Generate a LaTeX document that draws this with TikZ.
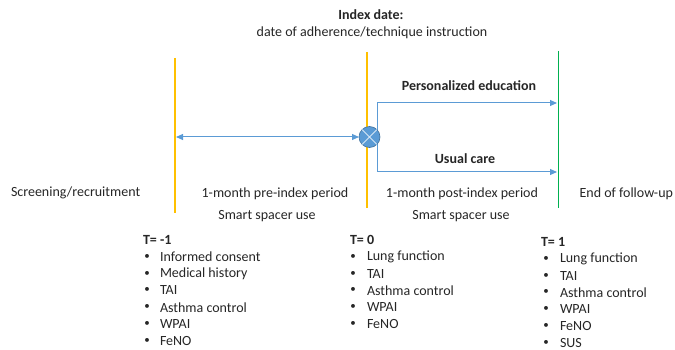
\documentclass[tikz,border=0pt]{standalone}
\usepackage{fontspec}
\setmainfont{Carlito}
\usetikzlibrary{arrows.meta}
\definecolor{ylw}{HTML}{FFC000}
\definecolor{grn}{HTML}{00B050}
\definecolor{blu}{HTML}{5B9BD5}
\definecolor{bludk}{HTML}{41719C}
\definecolor{txt}{HTML}{262626}
\newcommand{\fsz}{\fontsize{14}{17}\selectfont}
\begin{document}
\begin{tikzpicture}[x=1pt,y=-1pt,
  every node/.style={inner sep=0pt,outer sep=0pt,text=txt,font=\fsz},
  vline/.style={line width=1.8pt},
  arr/.style={draw=blu,line width=1pt,-{Triangle[length=7pt,width=6pt]}},
  lbl/.style={anchor=center},
  bld/.style={anchor=center,font=\fsz\bfseries},
  ttl/.style={anchor=west,font=\fsz\bfseries},
  item/.style={anchor=west},
  dot/.style={anchor=center,font=\fontsize{11}{13}\selectfont}]
\useasboundingbox (0,0) rectangle (675,350);
% vertical lines
\draw[vline,ylw] (175,58) -- (175,213);
\draw[vline,ylw] (367,52) -- (367,208);
\draw[vline,grn] (558.5,51) -- (558.5,208);
% coordinates
\coordinate (L) at (176,137);
\coordinate (Ptop) at (377,103);
\coordinate (Pbot) at (377,172);
\coordinate (Etop) at (557,103);
\coordinate (Ebot) at (557,172);
% branches
\draw[draw=blu,line width=1pt] (Ptop) -- (Pbot);
\draw[arr] (Ptop) -- (Etop);
\draw[arr] (Pbot) -- (Ebot);
% circle
\node[circle,minimum size=21pt,fill=blu,draw=bludk,line width=0.6pt] (C) at (369.5,137) {};
\draw[white!75!blu,line width=0.8pt] (C.north west) -- (C.south east) (C.north east) -- (C.south west);
\draw[draw=blu,line width=1pt,{Triangle[length=7pt,width=6pt]}-{Triangle[length=7pt,width=6pt]}] (L) -- (C.west);
% top labels
\node[bld] (idx) at (371,15) {Index date:};
\node[lbl] (idx2) at (372,33) {date of adherence/technique instruction};
\node[bld] (pe) at (469,86) {Personalized education};
\node[bld] (uc) at (465,159) {Usual care};
% period labels
\node[anchor=west] (scr) at (11,193) {Screening/recruitment};
\node[lbl] (pre) at (275,194) {1-month pre-index period};
\node[lbl] (ss1) at (267,216) {Smart spacer use};
\node[lbl] (post) at (462,194) {1-month post-index period};
\node[lbl] (ss2) at (461,216) {Smart spacer use};
\node[anchor=east] (end) at (673,194) {End of follow-up};
% T=-1
\node[ttl] (t1) at (143,240) {T= -1};
\foreach \t [count=\i] in {Informed consent,Medical history,TAI,Asthma control,WPAI,FeNO}{
  \node[dot] (a\i b) at (147,240+16.8*\i) {\textbullet};
  \node[item] (a\i) at (160,240+16.8*\i) {\t};
}
% T=0
\node[ttl] (t2) at (350,240) {T= 0};
\foreach \t [count=\i] in {Lung function,TAI,Asthma control,WPAI,FeNO}{
  \node[dot] (b\i b) at (353,240+16.8*\i) {\textbullet};
  \node[item] (b\i) at (367,240+16.8*\i) {\t};
}
% T=1
\node[ttl] (t3) at (541,242) {T= 1};
\foreach \t [count=\i] in {Lung function,TAI,Asthma control,WPAI,FeNO,SUS}{
  \node[dot] (c\i b) at (546,242+16.8*\i) {\textbullet};
  \node[item] (c\i) at (560,242+16.8*\i) {\t};
}
\end{tikzpicture}
\end{document}
